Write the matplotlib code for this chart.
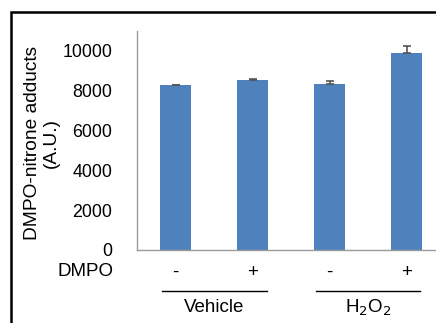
import matplotlib.pyplot as plt
from matplotlib.patches import Rectangle
from matplotlib.transforms import blended_transform_factory

plt.rcParams['font.family'] = ['Liberation Sans', 'DejaVu Sans']

# data
dmpo = ['-', '+', '-', '+']
values = [8290, 8530, 8330, 9920]
errors = [20, 50, 170, 330]
groups = ['Vehicle', 'H$_2$O$_2$']
yticks = [0, 2000, 4000, 6000, 8000, 10000]

W, H = 436, 323
fig = plt.figure(figsize=(W / 100, H / 100), dpi=100)

# black frame round the figure (cropped at right and bottom)
fig.patches.append(Rectangle((11 / W, -0.1), 1.2, 1 - 12 / H + 0.1,
                             transform=fig.transFigure, fill=False,
                             edgecolor='black', linewidth=1.8))

ax = fig.add_axes([137 / W, 1 - 250 / H, 308 / W, 219 / H])
x = list(range(len(values)))
ax.bar(x, values, width=0.4, color='#4F81BD', zorder=2)
ax.errorbar(x, values, yerr=[[0] * len(errors), errors], fmt='none',
            ecolor='#555555', elinewidth=1.2, capsize=3, capthick=1.2, zorder=3)

ax.set_xlim(-0.5, 3.5)
ax.set_ylim(0, 11000)
ax.set_yticks(yticks)
ax.set_yticklabels([str(t) for t in yticks], fontsize=12.8)
ax.tick_params(axis='y', length=0, pad=18)
ax.set_xticks(x)
ax.set_xticklabels(dmpo, fontsize=13.5)
ax.tick_params(axis='x', length=0, pad=10)
for s in ['top', 'right']:
    ax.spines[s].set_visible(False)
for s in ['left', 'bottom']:
    ax.spines[s].set_color('#9a9a9a')
    ax.spines[s].set_linewidth(1.0)

fig.text(113 / W, 1 - 271 / H, 'DMPO', ha='right', va='center', fontsize=13.5)

trans = blended_transform_factory(ax.transData, fig.transFigure)
y_line = 1 - 291 / H
for (x0, x1), label, xc in zip([(-0.17, 1.19), (1.83, 3.17)], groups, [0.5, 2.5]):
    ax.plot([x0, x1], [y_line, y_line], color='black', linewidth=1.0,
            transform=trans, clip_on=False)
    ax.text(xc, 1 - 308 / H, label, transform=trans, ha='center', va='center',
            fontsize=13.5)

fig.text(42 / W, 1 - 143 / H, 'DMPO-nitrone adducts\n(A.U.)', rotation=90,
         ha='center', va='center', fontsize=13.8, linespacing=1.15)

fig.savefig('out.png', dpi=100)
